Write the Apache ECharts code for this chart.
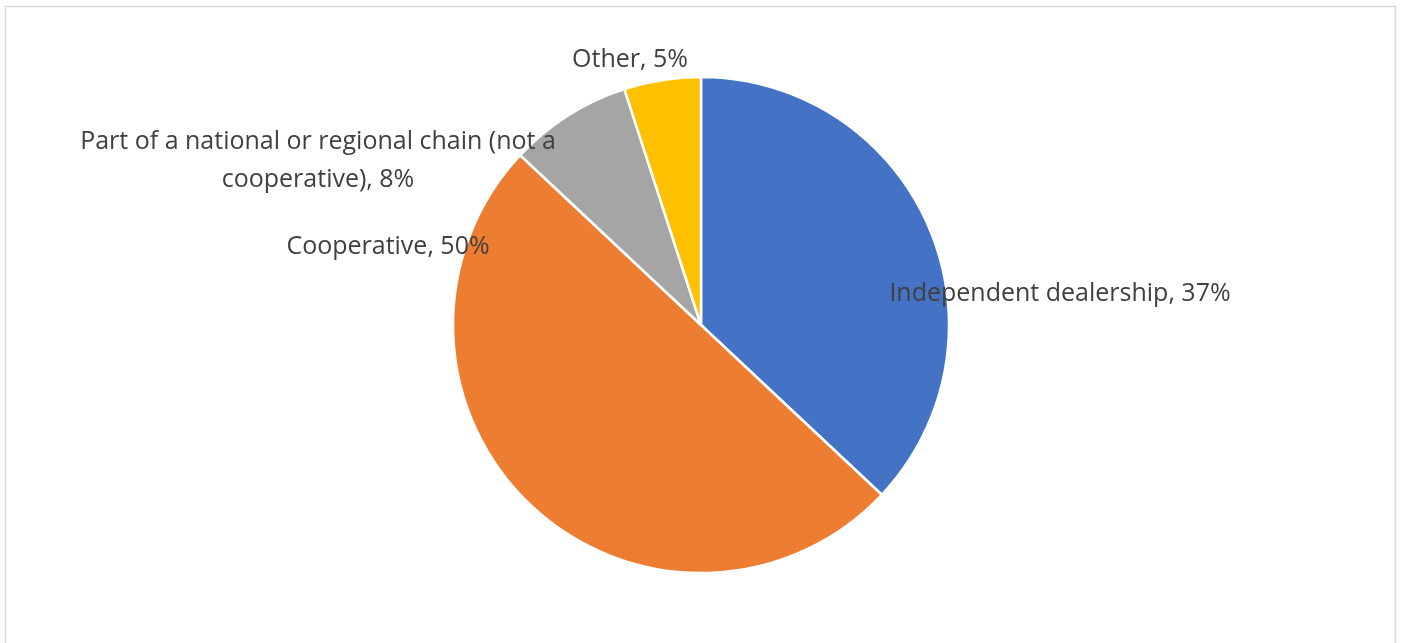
<!DOCTYPE html>
<html>
<head>
<meta charset="utf-8">
<script src="https://cdn.jsdelivr.net/npm/echarts@6/dist/echarts.min.js"></script>
<style>
html,body{margin:0;padding:0;background:#fff;}
#c{width:1401px;height:643px;}
</style>
</head>
<body>
<div id="c"></div>
<script>
const categories = ['Independent dealership', 'Cooperative', 'Part of a national or regional chain (not a\ncooperative)', 'Other'];
const values = [37, 50, 8, 5];
const colors = ['#4472C4', '#ED7D31', '#A5A5A5', '#FFC000'];
// label anchor positions (centre of label text block)
const labelPos = [[1060, 294], [388, 247], [318, 161], [630, 60]];

const chart = echarts.init(document.getElementById('c'));
chart.setOption({
  animation: false,
  graphic: [{
    type: 'rect',
    shape: {x: 5.5, y: 6.5, width: 1390, height: 700},
    style: {fill: 'none', stroke: '#d9d9d9', lineWidth: 1.5},
    silent: true
  }],
  series: [{
    type: 'pie',
    center: [701, 325],
    radius: [0, 248],
    startAngle: 90,
    clockwise: true,
    data: categories.map((n, i) => ({name: n, value: values[i], itemStyle: {color: colors[i]}})),
    itemStyle: {borderColor: '#fff', borderWidth: 2.5},
    label: {
      show: true,
      position: 'outside',
      color: '#404040',
      fontFamily: 'Open Sans',
      fontSize: 25,
      lineHeight: 38,
      align: 'center',
      formatter: function (p) {
        return p.name + ', ' + p.value + '%';
      }
    },
    labelLine: {show: false},
    labelLayout: function (params) {
      const p = labelPos[params.dataIndex];
      return {x: p[0], y: p[1], align: 'center', verticalAlign: 'middle'};
    }
  }]
});
</script>
</body>
</html>
